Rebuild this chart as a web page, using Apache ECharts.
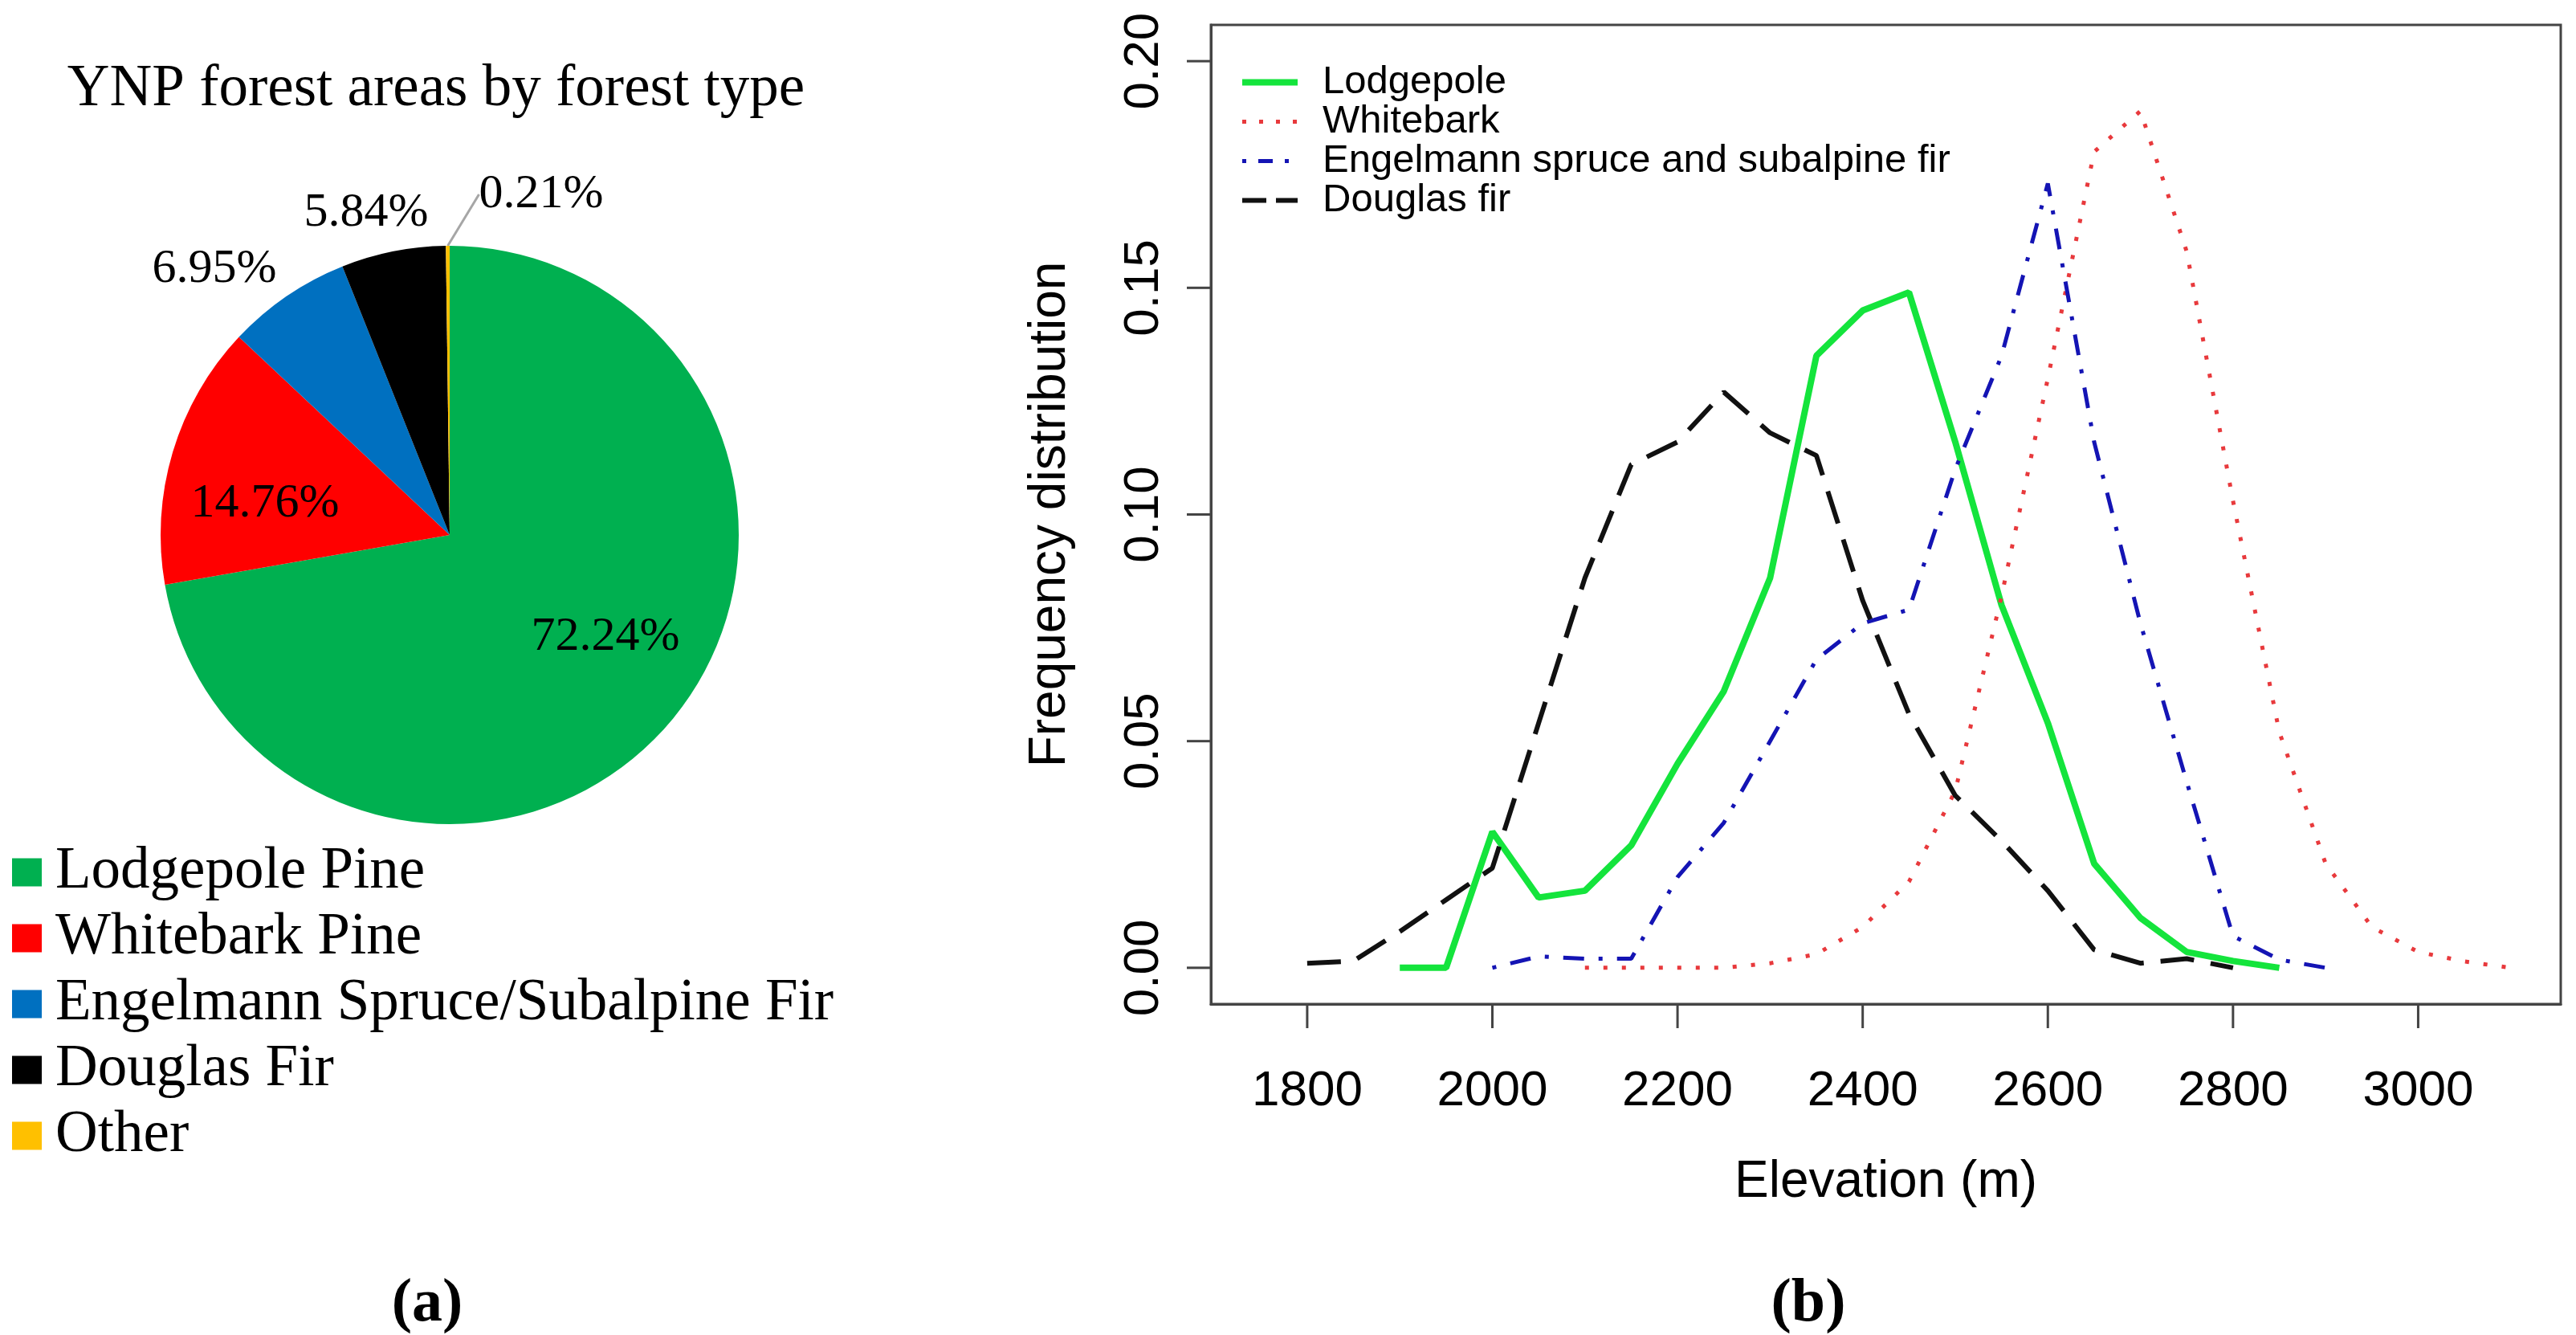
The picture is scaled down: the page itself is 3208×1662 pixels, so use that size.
<!DOCTYPE html>
<html>
<head>
<meta charset="utf-8">
<title>YNP forest types</title>
<script src="https://cdn.jsdelivr.net/npm/echarts@6/dist/echarts.min.js"></script>
<style>
  html, body { margin: 0; padding: 0; background: #fff; }
  #main { width: 3208px; height: 1662px; }
</style>
</head>
<body>
<div id="main"></div>
<script>
// (a) forest area share by type
var forestTypes = ['Lodgepole Pine', 'Whitebark Pine', 'Engelmann Spruce/Subalpine Fir', 'Douglas Fir', 'Other'];
var forestShare = [72.24, 14.76, 6.95, 5.84, 0.21];

// (b) frequency distribution over elevation (m)
var elevLodgepole = [1900, 1950, 2000, 2050, 2100, 2150, 2200, 2250, 2300, 2350, 2400, 2450, 2500, 2550, 2600, 2650, 2700, 2750, 2800, 2850];
var freqLodgepole = [0, 0, 0.030, 0.0155, 0.017, 0.027, 0.045, 0.061, 0.086, 0.135, 0.145, 0.149, 0.116, 0.080, 0.054, 0.023, 0.011, 0.0035, 0.0015, 0];

var elevWhitebark = [2100, 2150, 2200, 2250, 2300, 2350, 2400, 2450, 2500, 2550, 2600, 2650, 2700, 2750, 2800, 2850, 2900, 2950, 3000, 3050, 3100];
var freqWhitebark = [0, 0, 0, 0, 0.001, 0.003, 0.009, 0.019, 0.039, 0.082, 0.130, 0.180, 0.189, 0.158, 0.103, 0.052, 0.023, 0.009, 0.0035, 0.0014, 0];

var elevEngelmann = [2000, 2050, 2100, 2150, 2200, 2250, 2300, 2350, 2400, 2450, 2500, 2550, 2600, 2650, 2700, 2750, 2800, 2850, 2900];
var freqEngelmann = [0, 0.0025, 0.002, 0.002, 0.020, 0.032, 0.050, 0.068, 0.076, 0.079, 0.110, 0.135, 0.173, 0.116, 0.076, 0.041, 0.007, 0.0018, 0];

var elevDouglas = [1800, 1850, 1900, 1950, 2000, 2050, 2100, 2150, 2200, 2250, 2300, 2350, 2400, 2450, 2500, 2550, 2600, 2650, 2700, 2750, 2800];
var freqDouglas = [0.001, 0.0015, 0.008, 0.015, 0.022, 0.054, 0.086, 0.111, 0.116, 0.127, 0.118, 0.113, 0.081, 0.056, 0.038, 0.028, 0.017, 0.004, 0.001, 0.002, 0];

var elevTicks = [1800, 2000, 2200, 2400, 2600, 2800, 3000];
var freqTicks = [0, 0.05, 0.10, 0.15, 0.20];

// styles
var pieColors = ['#00b050', '#ff0000', '#0070c0', '#000000', '#ffc000'];
var pieLabelAt = [[754, 793], [330, 627], [267, 335], [456, 265], [674, 242]];
var serif = 'Liberation Serif';
var sans = 'Liberation Sans';
var axisGrey = '#444';
var tickLen = 30;
var xRange = [1696, 3154];
var yRange = [-0.008, 0.208];

function pairs(xs, ys) {
    return xs.map(function (x, i) { return [x, ys[i]]; });
}

var myChart = echarts.init(document.getElementById('main'));

var panelTag = function (letter, x, y) {
    return {
        text: '{p|(}{b|' + letter + '}{p|)}',
        left: x, top: y, padding: 0, textAlign: 'center',
        textStyle: { rich: {
            p: { fontFamily: serif, fontSize: 76, color: '#000', lineHeight: 80 },
            b: { fontFamily: serif, fontSize: 76, fontWeight: 'bold', color: '#000', lineHeight: 80 }
        } }
    };
};

var option = {
    animation: false,
    backgroundColor: '#fff',
    title: [
        {
            text: 'YNP forest areas by forest type',
            left: 543, top: 72, padding: 0, textAlign: 'center',
            textStyle: { fontFamily: serif, fontSize: 73, fontWeight: 'normal', color: '#000', lineHeight: 80 }
        },
        panelTag('a', 532, 1584),
        panelTag('b', 2252, 1584)
    ],
    legend: [
        {
            // legend of the line plot, no box, line samples only
            data: [
                { name: 'Lodgepole', lineStyle: { width: 8 } },
                { name: 'Whitebark', lineStyle: { width: 5, type: [5, 16] } },
                { name: 'Engelmann spruce and subalpine fir', lineStyle: { width: 5, type: [5, 15, 18, 15] } },
                { name: 'Douglas fir', lineStyle: { width: 6, type: [30, 12] } }
            ],
            orient: 'vertical',
            left: 1543, top: 78, padding: 0,
            itemWidth: 69, itemHeight: 14, itemGap: 0,
            selectedMode: false,
            itemStyle: { opacity: 0, borderWidth: 0 },
            textStyle: { fontFamily: sans, fontSize: 49, color: '#000', lineHeight: 47, padding: [0, 0, 0, 26] }
        },
        {
            // legend of the pie
            data: forestTypes,
            orient: 'vertical',
            left: 15, top: 1045, padding: 0,
            icon: 'rect',
            itemWidth: 37, itemHeight: 35, itemGap: 0,
            selectedMode: false,
            textStyle: { fontFamily: serif, fontSize: 73, color: '#000', lineHeight: 82, padding: [0, 0, 0, 12] }
        }
    ],
    grid: {
        left: 1508, top: 31, width: 1681, height: 1219,
        show: true, borderColor: axisGrey, borderWidth: 3, backgroundColor: 'transparent'
    },
    xAxis: {
        type: 'value',
        min: xRange[0], max: xRange[1],
        name: 'Elevation (m)',
        nameLocation: 'middle',
        nameGap: 190,
        nameTextStyle: { fontFamily: sans, fontSize: 64, color: '#000', lineHeight: 64 },
        axisLine: { show: true, onZero: false, lineStyle: { color: axisGrey, width: 3 } },
        splitLine: { show: false },
        axisTick: { show: false },
        axisLabel: {
            customValues: elevTicks, margin: 78,
            fontFamily: sans, fontSize: 62, color: '#000', lineHeight: 62,
            formatter: function (v) { return String(v); }
        }
    },
    yAxis: {
        type: 'value',
        min: yRange[0], max: yRange[1],
        name: 'Frequency distribution',
        nameLocation: 'middle',
        nameRotate: 90,
        nameGap: 168,
        nameTextStyle: { fontFamily: sans, fontSize: 64, color: '#000', lineHeight: 64 },
        axisLine: { show: true, onZero: false, lineStyle: { color: axisGrey, width: 3 } },
        splitLine: { show: false },
        axisTick: { show: false },
        axisLabel: {
            customValues: freqTicks, margin: 52, rotate: 90,
            fontFamily: sans, fontSize: 62, color: '#000', lineHeight: 62,
            formatter: function (v) { return v.toFixed(2); }
        }
    },
    series: [
        {
            type: 'pie',
            center: [560, 666],
            radius: 360,
            startAngle: 90,
            clockwise: true,
            avoidLabelOverlap: false,
            itemStyle: { borderWidth: 0 },
            data: forestTypes.map(function (n, i) {
                return {
                    name: n, value: forestShare[i],
                    itemStyle: { color: pieColors[i] },
                    labelLine: { show: i === 4 }
                };
            }),
            label: {
                show: true, position: 'outside',
                fontFamily: serif, fontSize: 60, color: '#000',
                formatter: function (p) { return p.value.toFixed(2) + '%'; }
            },
            labelLine: { show: false, length: 20, length2: 0, lineStyle: { color: '#a6a6a6', width: 3 } },
            labelLayout: function (p) {
                var a = pieLabelAt[p.dataIndex];
                return { x: a[0], y: a[1], align: 'center', verticalAlign: 'middle' };
            }
        },
        {
            name: 'Lodgepole', type: 'line', symbol: 'none',
            data: pairs(elevLodgepole, freqLodgepole),
            lineStyle: { color: '#14e43c', width: 8, type: 'solid' },
            itemStyle: { color: '#14e43c' }
        },
        {
            name: 'Whitebark', type: 'line', symbol: 'none',
            data: pairs(elevWhitebark, freqWhitebark),
            lineStyle: { color: '#e8393c', width: 5, type: [5, 18], cap: 'butt' },
            itemStyle: { color: '#e8393c' }
        },
        {
            name: 'Engelmann spruce and subalpine fir', type: 'line', symbol: 'none',
            data: pairs(elevEngelmann, freqEngelmann),
            lineStyle: { color: '#1414b4', width: 5, type: [5, 18, 26, 18], cap: 'butt' },
            itemStyle: { color: '#1414b4' }
        },
        {
            name: 'Douglas fir', type: 'line', symbol: 'none',
            data: pairs(elevDouglas, freqDouglas),
            lineStyle: { color: '#111', width: 6, type: [42, 21], cap: 'butt' },
            itemStyle: { color: '#111' }
        }
    ]
};

myChart.setOption(option);

// R-style outward ticks, placed through the chart's own axis scales
var axisBottom = myChart.convertToPixel({ yAxisIndex: 0 }, yRange[0]);
var axisLeft = myChart.convertToPixel({ xAxisIndex: 0 }, xRange[0]);
var ticks = [];
elevTicks.forEach(function (v) {
    var px = myChart.convertToPixel({ xAxisIndex: 0 }, v);
    ticks.push({ type: 'line', silent: true, z: 10,
        shape: { x1: px, y1: axisBottom, x2: px, y2: axisBottom + tickLen },
        style: { stroke: axisGrey, lineWidth: 3 } });
});
freqTicks.forEach(function (v) {
    var py = myChart.convertToPixel({ yAxisIndex: 0 }, v);
    ticks.push({ type: 'line', silent: true, z: 10,
        shape: { x1: axisLeft - tickLen, y1: py, x2: axisLeft, y2: py },
        style: { stroke: axisGrey, lineWidth: 3 } });
});
myChart.setOption({ graphic: ticks });
</script>
</body>
</html>
